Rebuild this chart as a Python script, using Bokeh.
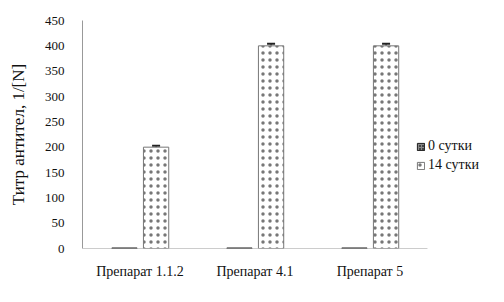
from bokeh.plotting import figure
from bokeh.models import ColumnDataSource, Range1d, Whisker, Legend, LegendItem, SingleIntervalTicker, FixedTicker
from bokeh.transform import dodge
from bokeh.embed import file_html
from bokeh.resources import INLINE

categories = ["Препарат 1.1.2", "Препарат 4.1", "Препарат 5"]
series_names = ["0 сутки", "14 сутки"]
day0 = [1, 1, 1]
day14 = [200, 400, 400]
err14 = [3, 4, 4]

FONT = "Liberation Serif"

xpos = [i + 0.5 for i in range(len(categories))]
src = ColumnDataSource(dict(
    x=xpos, d0=day0, d14=day14,
    d14_lo=[v - e for v, e in zip(day14, err14)], d14_hi=[v + e for v, e in zip(day14, err14)],
))

p = figure(x_range=Range1d(0, 3.67), y_range=Range1d(0, 450),
           width=504, height=302, output_backend="svg", toolbar_location=None,
           min_border_left=82, min_border_right=0, min_border_top=20, min_border_bottom=54)
p.outline_line_color = None
p.xgrid.grid_line_color = None
p.ygrid.grid_line_color = None

r0 = p.vbar(x=dodge("x", -0.135), top="d0", width=0.22, source=src,
            fill_color="#444444", line_color="#222222", line_width=1,
            hatch_pattern="cross", hatch_color="#888888", hatch_scale=3)
r14 = p.vbar(x=dodge("x", 0.14), top="d14", width=0.22, source=src,
             fill_color="white", line_color="#777777", line_width=1,
             hatch_pattern="dot", hatch_color="#555555", hatch_alpha=0.8, hatch_scale=7, hatch_weight=0.5)

w = Whisker(base=dodge("x", 0.14), upper="d14_hi", lower="d14_lo", source=src,
            line_color="#222222", line_width=1)
w.upper_head.size = 8
w.lower_head.size = 8
w.upper_head.line_color = "#222222"
w.lower_head.line_color = "#222222"
w.upper_head.line_width = 2
w.lower_head.line_width = 2
p.add_layout(w)

# category axis baseline spans only the categories
p.segment(x0=[0], y0=[0], x1=[len(categories)], y1=[0], line_color="#999999", line_width=1)

for ax in (p.xaxis, p.yaxis):
    ax.major_tick_line_color = None
    ax.minor_tick_line_color = None
    ax.major_label_text_font = FONT
    ax.major_label_text_color = "#111111"
p.yaxis.axis_line_color = "#999999"
p.xaxis.axis_line_color = None

p.xaxis.ticker = FixedTicker(ticks=xpos)
p.xaxis.major_label_overrides = {x: c for x, c in zip(xpos, categories)}
p.xaxis.major_label_text_font_size = "14px"
p.xaxis.major_label_standoff = 9

p.yaxis.ticker = SingleIntervalTicker(interval=50)
p.yaxis.major_label_text_font_size = "13px"
p.yaxis.major_label_standoff = 12
p.yaxis.axis_label = "Титр антител, 1/[N]"
p.yaxis.axis_label_text_font = FONT
p.yaxis.axis_label_text_font_style = "normal"
p.yaxis.axis_label_text_font_size = "17px"
p.yaxis.axis_label_text_color = "#111111"
p.yaxis.axis_label_standoff = 14

legend = Legend(items=[LegendItem(label=series_names[0], renderers=[r0]),
                       LegendItem(label=series_names[1], renderers=[r14])],
                location=(334, 75), border_line_color=None, background_fill_alpha=0,
                label_text_font=FONT, label_text_font_size="14px", label_text_color="#111111",
                glyph_width=9, glyph_height=9, spacing=3, padding=0, margin=0, label_standoff=3)
p.add_layout(legend)

open("out.html", "w").write(file_html(p, INLINE))
